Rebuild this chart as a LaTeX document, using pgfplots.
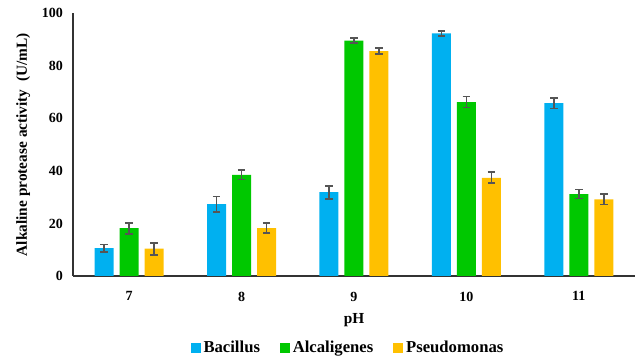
\documentclass[border=0pt]{standalone}
\usepackage{pgfplots}
\pgfplotsset{compat=1.18}
\usepackage{fontspec}
\setmainfont{Liberation Serif}
\definecolor{cbac}{HTML}{00B0F0}
\definecolor{calc}{HTML}{00C800}
\definecolor{cpse}{HTML}{FFC000}
\definecolor{cerr}{HTML}{555555}
\begin{document}
\begin{tikzpicture}
\useasboundingbox (-54.75pt,-63pt) rectangle (425.25pt,207pt);
\begin{axis}[
  scale only axis,
  width=421.5pt, height=197pt,
  ybar=4.5pt, bar width=14.25pt,
  xmin=-0.5, xmax=4.5,
  ymin=0, ymax=100,
  xtick=data, xticklabels={7,8,9,10,11},
  ytick={0,20,40,60,80,100},
  axis x line*=bottom, axis y line*=left,
  axis line style={line width=1pt, draw=black!80},
  tick style={draw=none},
  ticklabel style={font=\fontsize{10.5}{12}\selectfont\bfseries},
  xticklabel style={yshift=-4pt},
  yticklabel style={xshift=-4pt},
  /pgf/number format/assume math mode=true,
  xlabel={\bfseries pH}, ylabel={\bfseries Alkaline protease activity \ (U/mL)},
  label style={font=\fontsize{11.5}{13}\selectfont},
  xlabel style={yshift=-2pt},
  ylabel style={yshift=2pt},
  legend style={at={(0.49,-0.274)}, anchor=center, draw=none, legend columns=-1,
    font=\fontsize{12.5}{14}\selectfont\bfseries, /tikz/every even column/.append style={column sep=13pt}},
  legend cell align=left,
  legend image code/.code={\fill[#1] (0pt,-3.8pt) rectangle (7.6pt,3.8pt);},
  error bars/y dir=both, error bars/y explicit,
  error bars/error bar style={line width=1.3pt, cerr},
  error bars/error mark options={rotate=90, mark size=2.8pt, line width=1.3pt, cerr},
]
\addplot[fill=cbac, draw=none] coordinates {(0,10.6)+-(0,1.4) (1,27.4)+-(0,2.9) (2,31.9)+-(0,2.5) (3,92.4)+-(0,1.0) (4,65.8)+-(0,2.0)};
\addplot[fill=calc, draw=none] coordinates {(0,18.2)+-(0,2.1) (1,38.5)+-(0,1.8) (2,89.6)+-(0,0.9) (3,66.2)+-(0,2.1) (4,31.2)+-(0,1.7)};
\addplot[fill=cpse, draw=none] coordinates {(0,10.4)+-(0,2.3) (1,18.2)+-(0,1.9) (2,85.6)+-(0,1.1) (3,37.4)+-(0,2.1) (4,29.2)+-(0,2.0)};
\legend{Bacillus, Alcaligenes, Pseudomonas}
\end{axis}
\end{tikzpicture}
\end{document}
